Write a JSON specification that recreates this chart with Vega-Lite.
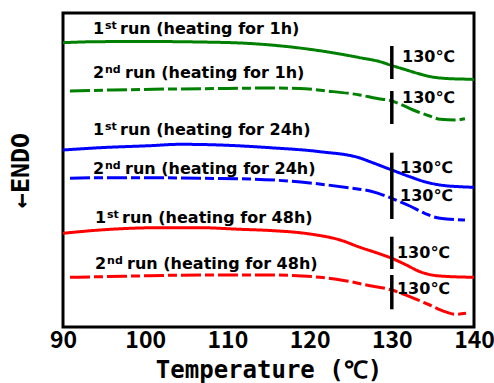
{
  "$schema": "https://vega.github.io/schema/vega-lite/v6.json",
  "width": 411,
  "height": 314,
  "autosize": "none",
  "padding": {"left": 63, "top": 13, "right": 20, "bottom": 56},
  "config": {
    "view": {"stroke": "black", "strokeWidth": 3},
    "axis": {"grid": false, "domain": false}
  },
  "datasets": {
    "curves": [
      {"set": "1h", "run": "1st", "T": 90, "v": 284.3},
      {"set": "1h", "run": "1st", "T": 93.9, "v": 285.3},
      {"set": "1h", "run": "1st", "T": 100, "v": 285.5},
      {"set": "1h", "run": "1st", "T": 106.7, "v": 285},
      {"set": "1h", "run": "1st", "T": 112.75, "v": 283.5},
      {"set": "1h", "run": "1st", "T": 118.8, "v": 279},
      {"set": "1h", "run": "1st", "T": 123.7, "v": 273},
      {"set": "1h", "run": "1st", "T": 126, "v": 269.5},
      {"set": "1h", "run": "1st", "T": 128.57, "v": 265.3},
      {"set": "1h", "run": "1st", "T": 130, "v": 261.5},
      {"set": "1h", "run": "1st", "T": 131.6, "v": 257.5},
      {"set": "1h", "run": "1st", "T": 133.2, "v": 253.5},
      {"set": "1h", "run": "1st", "T": 134.6, "v": 250.5},
      {"set": "1h", "run": "1st", "T": 136.7, "v": 248.5},
      {"set": "1h", "run": "1st", "T": 139.5, "v": 247.7},
      {"set": "1h", "run": "1st", "T": 140, "v": 247.5},

      {"set": "1h", "run": "2nd", "T": 90.85, "v": 236},
      {"set": "1h", "run": "2nd", "T": 96, "v": 237},
      {"set": "1h", "run": "2nd", "T": 103, "v": 238},
      {"set": "1h", "run": "2nd", "T": 110, "v": 238.5},
      {"set": "1h", "run": "2nd", "T": 115, "v": 239},
      {"set": "1h", "run": "2nd", "T": 118.8, "v": 238.5},
      {"set": "1h", "run": "2nd", "T": 122.1, "v": 236},
      {"set": "1h", "run": "2nd", "T": 126.1, "v": 232},
      {"set": "1h", "run": "2nd", "T": 128.1, "v": 228.7},
      {"set": "1h", "run": "2nd", "T": 130, "v": 226},
      {"set": "1h", "run": "2nd", "T": 131, "v": 223},
      {"set": "1h", "run": "2nd", "T": 132.6, "v": 217},
      {"set": "1h", "run": "2nd", "T": 134.6, "v": 211},
      {"set": "1h", "run": "2nd", "T": 135.9, "v": 207.7},
      {"set": "1h", "run": "2nd", "T": 137.7, "v": 207},
      {"set": "1h", "run": "2nd", "T": 138.9, "v": 208.3},

      {"set": "24h", "run": "1st", "T": 90, "v": 177},
      {"set": "24h", "run": "1st", "T": 94.5, "v": 179.3},
      {"set": "24h", "run": "1st", "T": 100.58, "v": 181.3},
      {"set": "24h", "run": "1st", "T": 104.23, "v": 182.7},
      {"set": "24h", "run": "1st", "T": 109.1, "v": 182},
      {"set": "24h", "run": "1st", "T": 115.18, "v": 179.3},
      {"set": "24h", "run": "1st", "T": 121.27, "v": 175.3},
      {"set": "24h", "run": "1st", "T": 126.13, "v": 169},
      {"set": "24h", "run": "1st", "T": 127.35, "v": 165.3},
      {"set": "24h", "run": "1st", "T": 130, "v": 157},
      {"set": "24h", "run": "1st", "T": 132.19, "v": 150.3},
      {"set": "24h", "run": "1st", "T": 134, "v": 145.3},
      {"set": "24h", "run": "1st", "T": 135.86, "v": 142},
      {"set": "24h", "run": "1st", "T": 138.3, "v": 140.3},
      {"set": "24h", "run": "1st", "T": 140, "v": 139.7},

      {"set": "24h", "run": "2nd", "T": 90.85, "v": 148.7},
      {"set": "24h", "run": "2nd", "T": 94.5, "v": 149.3},
      {"set": "24h", "run": "2nd", "T": 100.58, "v": 149.3},
      {"set": "24h", "run": "2nd", "T": 106.67, "v": 148.7},
      {"set": "24h", "run": "2nd", "T": 112.75, "v": 148},
      {"set": "24h", "run": "2nd", "T": 120.05, "v": 144},
      {"set": "24h", "run": "2nd", "T": 124.91, "v": 139},
      {"set": "24h", "run": "2nd", "T": 127.35, "v": 136},
      {"set": "24h", "run": "2nd", "T": 130, "v": 128.7},
      {"set": "24h", "run": "2nd", "T": 131, "v": 125.3},
      {"set": "24h", "run": "2nd", "T": 132.19, "v": 121},
      {"set": "24h", "run": "2nd", "T": 134, "v": 113.7},
      {"set": "24h", "run": "2nd", "T": 135.86, "v": 108.7},
      {"set": "24h", "run": "2nd", "T": 138.9, "v": 107},

      {"set": "48h", "run": "1st", "T": 90, "v": 93.7},
      {"set": "48h", "run": "1st", "T": 94.5, "v": 97},
      {"set": "48h", "run": "1st", "T": 101.8, "v": 99.3},
      {"set": "48h", "run": "1st", "T": 106.67, "v": 99.3},
      {"set": "48h", "run": "1st", "T": 111.53, "v": 97.7},
      {"set": "48h", "run": "1st", "T": 115.18, "v": 96.5},
      {"set": "48h", "run": "1st", "T": 120.05, "v": 93},
      {"set": "48h", "run": "1st", "T": 123.7, "v": 87},
      {"set": "48h", "run": "1st", "T": 126.13, "v": 79.7},
      {"set": "48h", "run": "1st", "T": 128.57, "v": 73},
      {"set": "48h", "run": "1st", "T": 130, "v": 68.7},
      {"set": "48h", "run": "1st", "T": 131.6, "v": 62.7},
      {"set": "48h", "run": "1st", "T": 133.43, "v": 55.3},
      {"set": "48h", "run": "1st", "T": 135.86, "v": 51},
      {"set": "48h", "run": "1st", "T": 140, "v": 49.7},

      {"set": "48h", "run": "2nd", "T": 90.85, "v": 49.7},
      {"set": "48h", "run": "2nd", "T": 94.5, "v": 50.3},
      {"set": "48h", "run": "2nd", "T": 100.58, "v": 51.3},
      {"set": "48h", "run": "2nd", "T": 106.67, "v": 52},
      {"set": "48h", "run": "2nd", "T": 112.75, "v": 52},
      {"set": "48h", "run": "2nd", "T": 115.18, "v": 52},
      {"set": "48h", "run": "2nd", "T": 121.27, "v": 49.7},
      {"set": "48h", "run": "2nd", "T": 124.31, "v": 46.3},
      {"set": "48h", "run": "2nd", "T": 127.35, "v": 41.3},
      {"set": "48h", "run": "2nd", "T": 130, "v": 37},
      {"set": "48h", "run": "2nd", "T": 132.19, "v": 30.3},
      {"set": "48h", "run": "2nd", "T": 134.62, "v": 22},
      {"set": "48h", "run": "2nd", "T": 136.47, "v": 15.3},
      {"set": "48h", "run": "2nd", "T": 137.69, "v": 12.7},
      {"set": "48h", "run": "2nd", "T": 139.03, "v": 13.7}
    ],
    "labels": [
      {"run": "1st", "T": 93.65, "v": 293, "num": "1", "sup": "st", "rest": "run (heating for 1h)"},
      {"run": "2nd", "T": 93.65, "v": 249, "num": "2", "sup": "nd", "rest": "run (heating for 1h)"},
      {"run": "1st", "T": 93.65, "v": 192, "num": "1", "sup": "st", "rest": "run (heating for 24h)"},
      {"run": "2nd", "T": 93.65, "v": 153.5, "num": "2", "sup": "nd", "rest": "run (heating for 24h)"},
      {"run": "1st", "T": 93.9, "v": 104.5, "num": "1", "sup": "st", "rest": "run (heating for 48h)"},
      {"run": "2nd", "T": 93.9, "v": 58.5, "num": "2", "sup": "nd", "rest": "run (heating for 48h)"}
    ],
    "bars": [
      {"T": 130, "v": 281, "v2": 248},
      {"T": 130, "v": 236, "v2": 203},
      {"T": 130, "v": 174.3, "v2": 141},
      {"T": 130, "v": 141, "v2": 108},
      {"T": 130, "v": 90.3, "v2": 58},
      {"T": 130, "v": 52, "v2": 17.7}
    ],
    "marks130": [
      {"T": 131.24, "v": 265.3, "text": "130℃"},
      {"T": 131.24, "v": 224, "text": "130℃"},
      {"T": 131.0, "v": 153.7, "text": "130℃"},
      {"T": 131.0, "v": 126, "text": "130℃"},
      {"T": 130.63, "v": 69.3, "text": "130℃"},
      {"T": 130.63, "v": 32.7, "text": "130℃"}
    ],
    "ticks": [
      {"T": 95, "major": false}, {"T": 100, "major": true}, {"T": 105, "major": false},
      {"T": 110, "major": true}, {"T": 115, "major": false}, {"T": 120, "major": true},
      {"T": 125, "major": false}, {"T": 130, "major": true}, {"T": 135, "major": false}
    ]
  },
  "encoding": {
    "x": {
      "field": "T", "type": "quantitative",
      "scale": {"domain": [90, 140], "nice": false, "zero": false},
      "axis": {
        "title": "Temperature (℃)",
        "values": [90, 100, 110, 120, 130, 140],
        "ticks": false,
        "labelFont": "Noto Sans CJK JP", "labelFontWeight": "bold", "labelFontSize": 23,
        "labelColor": "black", "labelFlush": false, "labelPadding": 2,
        "titleFont": "DejaVu Sans Mono", "titleFontWeight": "bold", "titleFontSize": 24,
        "titleColor": "black", "titlePadding": 6
      }
    },
    "y": {
      "field": "v", "type": "quantitative",
      "scale": {"domain": [0, 314], "nice": false, "zero": false},
      "axis": {
        "title": "←ENDO", "labels": false, "ticks": false,
        "titleFont": "DejaVu Sans Mono", "titleFontWeight": "bold", "titleFontSize": 25,
        "titleColor": "black", "titlePadding": 30
      }
    }
  },
  "layer": [
    {
      "data": {"name": "curves"},
      "mark": {"type": "line", "strokeWidth": 3, "interpolate": "monotone"},
      "encoding": {
        "color": {"field": "set", "type": "nominal",
          "scale": {"domain": ["1h", "24h", "48h"], "range": ["#008000", "#0000ff", "#ff0000"]}, "legend": null},
        "strokeDash": {"field": "run", "type": "nominal",
          "scale": {"domain": ["1st", "2nd"], "range": [[1, 0], [20, 4, 9, 4]]}, "legend": null}
      }
    },
    {
      "data": {"name": "ticks"},
      "transform": [{"filter": "datum.major"}],
      "mark": {"type": "rule", "color": "black", "strokeWidth": 2},
      "encoding": {"y": {"datum": 0}, "y2": {"datum": 6}}
    },
    {
      "data": {"name": "ticks"},
      "transform": [{"filter": "!datum.major"}],
      "mark": {"type": "rule", "color": "black", "strokeWidth": 2},
      "encoding": {"y": {"datum": 0}, "y2": {"datum": 3.5}}
    },
    {
      "data": {"name": "bars"},
      "mark": {"type": "rule", "color": "black", "strokeWidth": 3.5},
      "encoding": {"y2": {"field": "v2"}}
    },
    {
      "data": {"name": "marks130"},
      "mark": {"type": "text", "align": "left", "baseline": "alphabetic", "font": "DejaVu Sans", "fontWeight": "bold", "fontSize": 16, "color": "black"},
      "encoding": {"text": {"field": "text"}}
    },
    {
      "data": {"name": "labels"},
      "mark": {"type": "text", "align": "left", "baseline": "alphabetic", "font": "DejaVu Sans", "fontWeight": "bold", "fontSize": 16, "color": "black"},
      "encoding": {"text": {"field": "num"}}
    },
    {
      "data": {"name": "labels"},
      "mark": {"type": "text", "align": "left", "baseline": "alphabetic", "font": "DejaVu Sans", "fontWeight": "bold", "fontSize": 11, "color": "black", "dx": 12, "dy": -5},
      "encoding": {"text": {"field": "sup"}}
    },
    {
      "data": {"name": "labels"},
      "transform": [{"filter": "datum.run === '1st'"}],
      "mark": {"type": "text", "align": "left", "baseline": "alphabetic", "font": "DejaVu Sans", "fontWeight": "bold", "fontSize": 16, "color": "black", "dx": 27},
      "encoding": {"text": {"field": "rest"}}
    },
    {
      "data": {"name": "labels"},
      "transform": [{"filter": "datum.run === '2nd'"}],
      "mark": {"type": "text", "align": "left", "baseline": "alphabetic", "font": "DejaVu Sans", "fontWeight": "bold", "fontSize": 16, "color": "black", "dx": 32},
      "encoding": {"text": {"field": "rest"}}
    }
  ]
}
